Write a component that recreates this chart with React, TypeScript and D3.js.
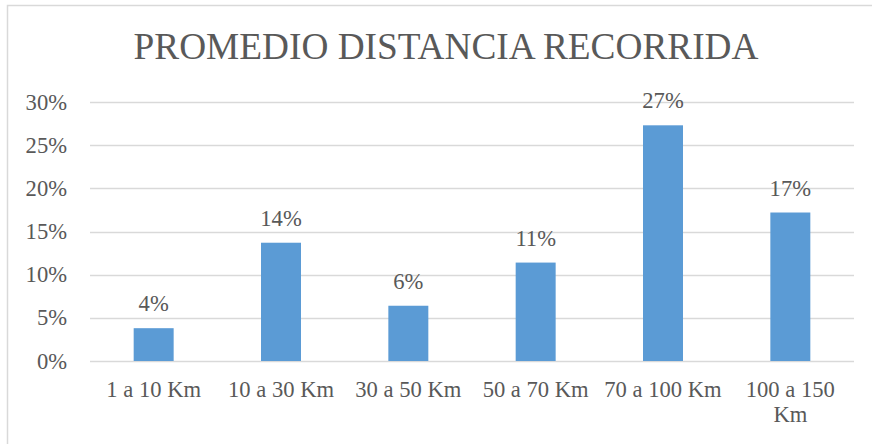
import React, { useEffect, useRef } from "react";
import * as d3 from "d3";

const categories: string[] = ["1 a 10 Km", "10 a 30 Km", "30 a 50 Km", "50 a 70 Km", "70 a 100 Km", "100 a 150 Km"];
const values: number[] = [0.038, 0.137, 0.064, 0.114, 0.273, 0.172];
const yTicks: number[] = [0, 0.05, 0.1, 0.15, 0.2, 0.25, 0.3];
const title = "PROMEDIO DISTANCIA RECORRIDA";

const W = 872;
const H = 444;
const FONT = "'Liberation Serif', 'Times New Roman', serif";
const TEXT = "#595959";
const GRID = "#d9d9d9";
const BAR = "#5B9BD5";
const FS = 22.6;

export default function App() {
  const ref = useRef<SVGSVGElement | null>(null);

  useEffect(() => {
    const svg = d3.select(ref.current);
    svg.selectAll("*").remove();

    const left = 90, right = 854, top = 102, bottom = 361;

    const x = d3.scaleBand<string>().domain(categories).range([left, right]).paddingInner(0.686).paddingOuter(0.343);
    const y = d3.scaleLinear().domain([0, 0.3]).range([bottom, top]);

    svg.append("rect")
      .attr("x", 7.5).attr("y", 5.5)
      .attr("width", W + 20).attr("height", H + 20)
      .attr("fill", "white").attr("stroke", GRID).attr("stroke-width", 1.5);

    svg.append("text")
      .attr("x", (left + right) / 2 - 26)
      .attr("y", 59)
      .attr("text-anchor", "middle")
      .attr("font-family", FONT)
      .attr("font-size", 37.3)
      .attr("fill", TEXT)
      .text(title);

    svg.append("g").selectAll("line").data(yTicks).join("line")
      .attr("x1", left).attr("x2", right)
      .attr("y1", d => Math.round(y(d)) + 0.5).attr("y2", d => Math.round(y(d)) + 0.5)
      .attr("stroke", GRID).attr("stroke-width", 1.5);

    svg.append("g").selectAll("text").data(yTicks).join("text")
      .attr("x", 67)
      .attr("y", d => y(d) + 7.5)
      .attr("text-anchor", "end")
      .attr("font-family", FONT)
      .attr("font-size", FS)
      .attr("fill", TEXT)
      .text(d => d3.format(".0%")(d));

    svg.append("g").selectAll("rect").data(values).join("rect")
      .attr("x", (d, i) => x(categories[i])!)
      .attr("width", x.bandwidth())
      .attr("y", d => y(d))
      .attr("height", d => bottom - y(d))
      .attr("fill", BAR);

    svg.append("g").selectAll("text").data(values).join("text")
      .attr("x", (d, i) => x(categories[i])! + x.bandwidth() / 2)
      .attr("y", d => y(d) - 17)
      .attr("text-anchor", "middle")
      .attr("font-family", FONT)
      .attr("font-size", FS)
      .attr("fill", TEXT)
      .text(d => d3.format(".0%")(d));

    const step = x.step();
    const labels = svg.append("g").selectAll("text").data(categories).join("text")
      .attr("x", d => x(d)! + x.bandwidth() / 2)
      .attr("y", 396.5)
      .attr("text-anchor", "middle")
      .attr("font-family", FONT)
      .attr("font-size", FS)
      .attr("fill", TEXT);

    labels.each(function (d) {
      const t = d3.select(this);
      const cx = +t.attr("x");
      const words = d.split(" ");
      let line: string[] = [];
      let tspan = t.append("tspan").attr("x", cx).attr("dy", 0);
      for (const w of words) {
        line.push(w);
        tspan.text(line.join(" "));
        const node = tspan.node() as SVGTextContentElement;
        if (node.getComputedTextLength() > step - 2 && line.length > 1) {
          line.pop();
          tspan.text(line.join(" "));
          line = [w];
          tspan = t.append("tspan").attr("x", cx).attr("dy", 25).text(w);
        }
      }
    });
  }, []);

  return (
    <svg ref={ref} width={W} height={H} style={{ position: "fixed", left: 0, top: 0, background: "white" }} />
  );
}
